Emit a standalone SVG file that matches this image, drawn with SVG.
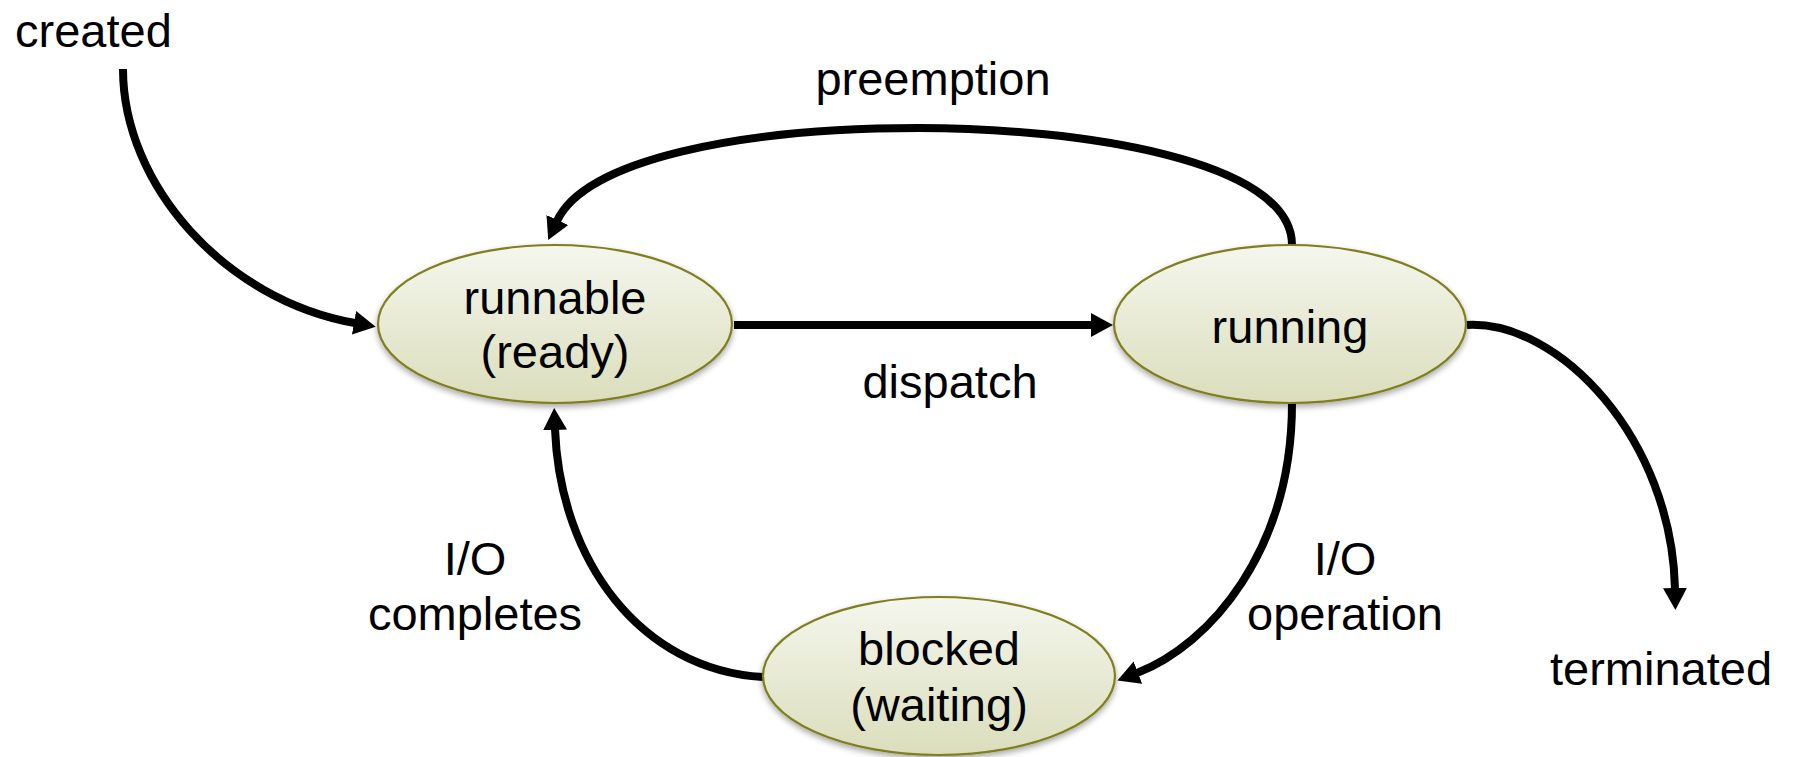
<svg xmlns="http://www.w3.org/2000/svg" width="1795" height="757" viewBox="0 0 1795 757">
  <style>
    text { font-family: "Liberation Sans", Arial, sans-serif; font-size: 47px; fill: #000; }
    .mid { text-anchor: middle; }
    .state { fill: url(#stateFill); stroke: #7f7f1f; stroke-width: 2.2; filter: url(#shadow); }
    .edge { fill: none; stroke: #000; stroke-width: 8; marker-end: url(#arrow); }
  </style>
  <defs>
    <linearGradient id="stateFill" x1="0" y1="0" x2="0" y2="1">
      <stop offset="0" stop-color="#f5f6ee"/>
      <stop offset="1" stop-color="#dadebb"/>
    </linearGradient>
    <filter id="shadow" x="-10%" y="-10%" width="120%" height="130%">
      <feGaussianBlur in="SourceAlpha" stdDeviation="3"/>
      <feOffset dx="0" dy="3" result="b"/>
      <feComponentTransfer><feFuncA type="linear" slope="0.35"/></feComponentTransfer>
      <feMerge><feMergeNode/><feMergeNode in="SourceGraphic"/></feMerge>
    </filter>
    <marker id="arrow" markerUnits="userSpaceOnUse" markerWidth="24" markerHeight="26" viewBox="0 -13 24 26" refX="1" refY="0" orient="auto">
      <path d="M0,-12 L22,0 L0,12 z" fill="#000"/>
    </marker>
  </defs>

  <!-- transitions -->
  <g id="connectors">
    <path class="edge" d="M123,69 C123,185 225,300 355,323"/>
    <path class="edge" d="M734,325 L1092,325"/>
    <path class="edge" d="M1292,245 C1292,160 1080,128 918,128 C740,128 585,160 557,221"/>
    <path class="edge" d="M1467,325 C1560,320 1672,440 1675,589"/>
    <path class="edge" d="M1292,403 C1292,550 1210,645 1137,673"/>
    <path class="edge" d="M763,677 C640,670 560,560 555,429"/>
  </g>

  <g id="labels">
    <text x="15" y="47">created</text>
    <text class="mid" x="1661" y="685">terminated</text>
    <text class="mid" x="933" y="95">preemption</text>
    <text class="mid" x="950" y="398">dispatch</text>
    <text class="mid" x="475" y="575">I/O</text>
    <text class="mid" x="475" y="630">completes</text>
    <text class="mid" x="1345" y="575">I/O</text>
    <text class="mid" x="1345" y="630">operation</text>
  </g>

  <g id="runnable">
    <ellipse class="state" cx="555" cy="324" rx="177" ry="79"/>
    <text class="mid" x="555" y="314">runnable</text>
    <text class="mid" x="555" y="368">(ready)</text>
  </g>

  <g id="running">
    <ellipse class="state" cx="1290" cy="324" rx="176" ry="79"/>
    <text class="mid" x="1290" y="343">running</text>
  </g>

  <g id="blocked">
    <ellipse class="state" cx="939" cy="676" rx="176" ry="79"/>
    <text class="mid" x="939" y="665">blocked</text>
    <text class="mid" x="939" y="721">(waiting)</text>
  </g>
</svg>
